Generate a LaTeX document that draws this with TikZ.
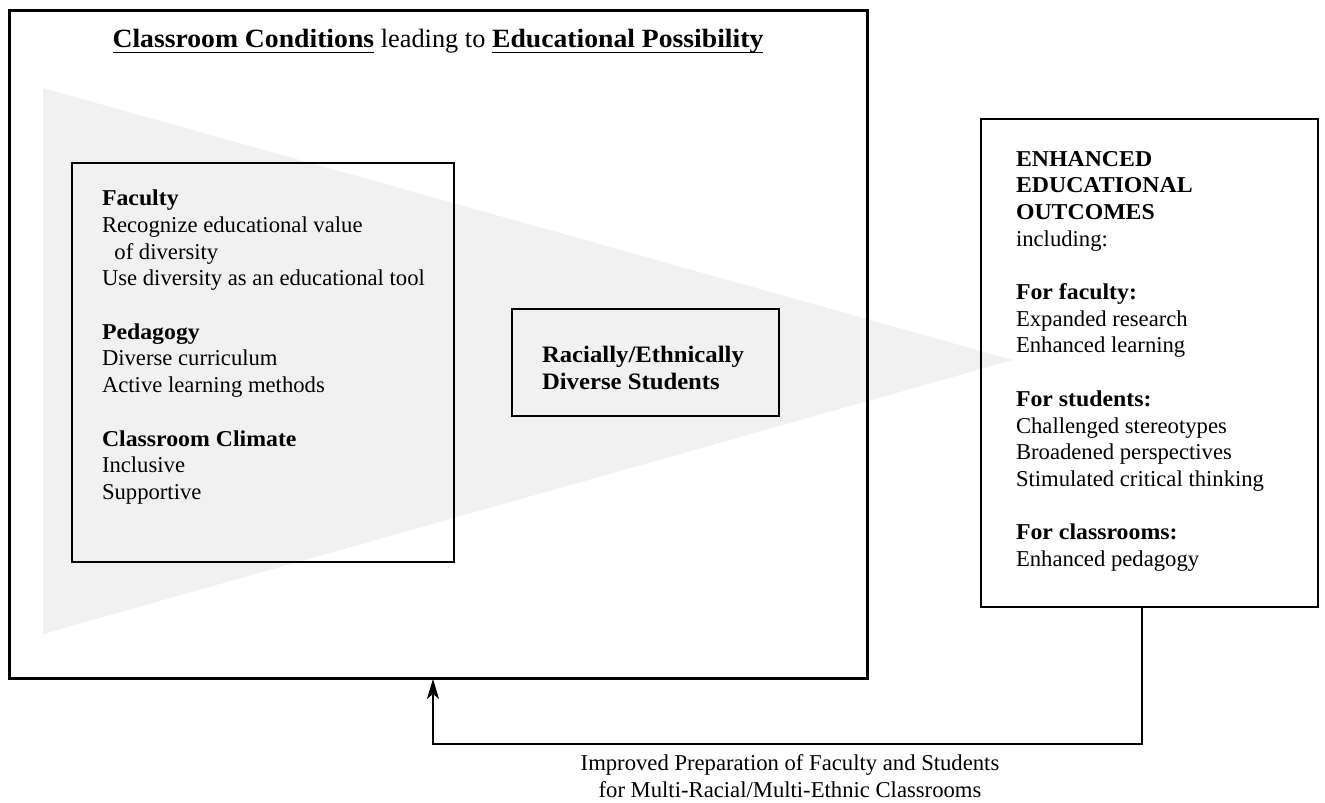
\documentclass[tikz,border=0pt]{standalone}
\usepackage{fontspec}
\setmainfont{Liberation Serif}[BoldFeatures={FakeStretch=1.05}]
\usetikzlibrary{arrows.meta}
\newsavebox\myulsave
\newcommand\myul[1]{\sbox\myulsave{#1}\rlap{\rule[-3pt]{\wd\myulsave}{0.8pt}}\usebox\myulsave}
\definecolor{tri}{HTML}{F1F1F1}
\begin{document}
\begin{tikzpicture}[x=0.02cm,y=-0.02cm,
  bigbox/.style={draw, line width=1.7pt, inner sep=0pt, outer sep=0pt},
  box/.style={draw, line width=1.4pt, inner sep=0pt, outer sep=0pt},
  txt/.style={inner sep=0pt, outer sep=0pt, anchor=north west, align=left,
              font=\fontsize{12.9pt}{15.2pt}\selectfont},
  conn/.style={line width=0.6pt}]
\useasboundingbox (0,0) rectangle (1325,803);
% funnel
\fill[tri] (43,88) -- (1013,360) -- (43,634) -- cycle;
% boxes
\node[bigbox, minimum width=17.18cm, minimum height=13.38cm] (outer) at (438.5,344.5) {};
\node[box, minimum width=7.64cm, minimum height=7.98cm] (cond) at (263,362.5) {};
\node[box, minimum width=5.34cm, minimum height=2.14cm] (students) at (645.5,362.5) {};
\node[box, minimum width=6.74cm, minimum height=9.76cm] (outcomes) at (1149.5,363) {};
% title
\node[inner sep=0pt, anchor=base, font=\fontsize{15pt}{18pt}\selectfont] (title) at (438,48)
  {\myul{\textbf{Classroom Conditions}} leading to \myul{\textbf{Educational Possibility}}};
% texts
\node[txt] (condtxt) at (102,190) {\textbf{Faculty}\\Recognize educational value\\\hspace*{0.55em}of diversity\\Use diversity as an educational tool\\[15.2pt]\textbf{Pedagogy}\\Diverse curriculum\\Active learning methods\\[15.2pt]\textbf{Classroom Climate}\\Inclusive\\Supportive};
\node[txt, font={\fontsize{13.4pt}{15.2pt}\selectfont\bfseries}] (stutxt) at (542,346) {Racially/Ethnically\\Diverse Students};
\node[txt] (outtxt) at (1016,151) {\textbf{ENHANCED}\\\textbf{EDUCATIONAL}\\\textbf{OUTCOMES}\\including:\\[15.2pt]\textbf{For faculty:}\\Expanded research\\Enhanced learning\\[15.2pt]\textbf{For students:}\\Challenged stereotypes\\Broadened perspectives\\Stimulated critical thinking\\[15.2pt]\textbf{For classrooms:}\\Enhanced pedagogy};
% feedback connector
\coordinate (c1) at (1142,744);
\coordinate (c2) at (433,744);
\draw[conn, -{Stealth[length=0.4cm, width=0.24cm, inset=0.1cm]}] (outcomes.south -| c1) -- (c1) -- (c2) -- (outer.south -| c2);
\node[inner sep=0pt, anchor=north, align=center, font=\fontsize{12.9pt}{15.2pt}\selectfont] (caption) at (790,754)
  {Improved Preparation of Faculty and Students\\for Multi-Racial/Multi-Ethnic Classrooms};
\end{tikzpicture}
\end{document}
